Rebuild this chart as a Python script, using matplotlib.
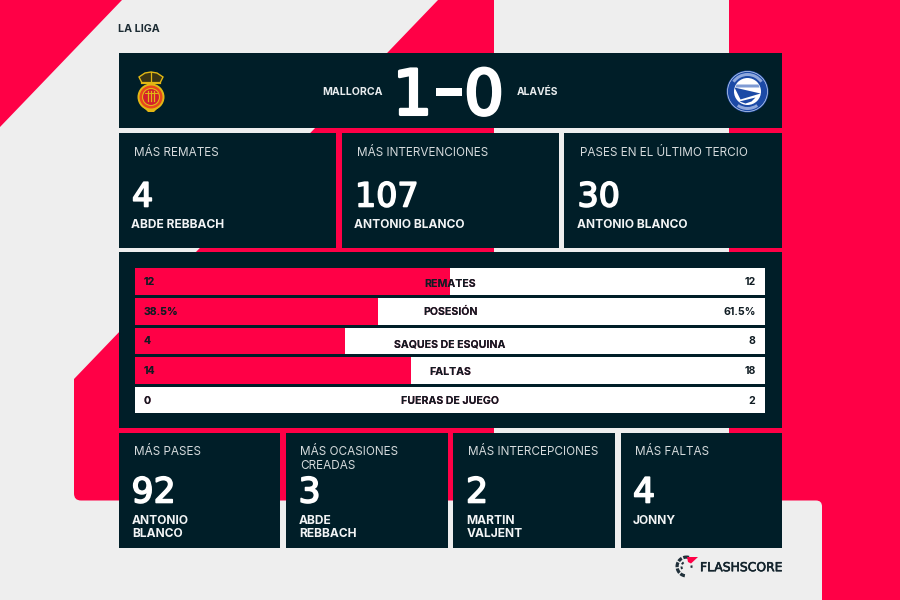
import matplotlib
matplotlib.use("Agg")
import matplotlib.pyplot as plt
import matplotlib.patheffects as pe
from matplotlib.patches import Circle, FancyBboxPatch, PathPatch, Polygon, Rectangle, Wedge
from matplotlib.path import Path

# Data
league = "LA LIGA"
home_team = "MALLORCA"
away_team = "ALAVÉS"
home_score = "1"
away_score = "0"

stat_names = ["REMATES", "POSESIÓN", "SAQUES DE ESQUINA", "FALTAS", "FUERAS DE JUEGO"]
stat_home = [12, 38.5, 4, 14, 0]
stat_away = [12, 61.5, 8, 18, 2]
stat_home_labels = ["12", "38.5%", "4", "14", "0"]
stat_away_labels = ["12", "61.5%", "8", "18", "2"]

top_titles = ["MÁS REMATES", "MÁS INTERVENCIONES", "PASES EN EL ÚLTIMO TERCIO"]
top_values = ["4", "107", "30"]
top_players = ["ABDE REBBACH", "ANTONIO BLANCO", "ANTONIO BLANCO"]

bottom_titles = ["MÁS PASES", "MÁS OCASIONES\nCREADAS", "MÁS INTERCEPCIONES", "MÁS FALTAS"]
bottom_values = ["92", "3", "2", "4"]
bottom_players = ["ANTONIO\nBLANCO", "ABDE\nREBBACH", "MARTIN\nVALJENT", "JONNY"]

RED = "#ff0046"
DARK = "#001e28"
GREY = "#eeeeee"
MAROON = "#8a0a33"
TITLE = "#d5dadc"

plt.rcParams["font.family"] = ["Inter", "DejaVu Sans"]

fig = plt.figure(figsize=(9, 6), dpi=100, facecolor=GREY)
ax = fig.add_axes([0, 0, 1, 1])
ax.set_xlim(0, 900)
ax.set_ylim(600, 0)
ax.axis("off")


def card(x0, y0, x1, y1):
    ax.add_patch(Rectangle((x0, y0), x1 - x0, y1 - y0, color=DARK, lw=0, zorder=3))


def background():
    ax.add_patch(Polygon([(0, 0), (122, 0), (0, 127)], color=RED, lw=0))
    # Big red shape in the middle, rounded bottom left corner
    verts = [(438, 0), (494, 0), (494, 500.5), (81, 500.5), (74, 500.5), (74, 493.5), (74, 379), (438, 0)]
    codes = [Path.MOVETO, Path.LINETO, Path.LINETO, Path.LINETO, Path.CURVE3, Path.CURVE3, Path.LINETO, Path.CLOSEPOLY]
    ax.add_patch(PathPatch(Path(verts, codes), color=RED, lw=0))
    # Red band on the right with the rounded notch
    ax.add_patch(Rectangle((729, 0), 171, 600, color=RED, lw=0))
    ax.add_patch(FancyBboxPatch((600, 506.5), 216, 120, boxstyle="round,pad=6", color=GREY, lw=0, zorder=1.5))


def mallorca_crest(cx, cy):
    yellow = "#e2b714"
    ax.add_patch(Polygon([(cx - 8, cy + 10), (cx + 8, cy + 10), (cx + 3, cy + 15), (cx - 3, cy + 15)],
                         color=yellow, lw=0, zorder=4))
    ax.add_patch(Circle((cx, cy), 13.5, color=yellow, lw=0, zorder=4))
    ax.add_patch(Circle((cx, cy), 11.5, color="#e8481c", lw=0, zorder=5))
    ax.add_patch(Circle((cx, cy), 8.5, facecolor="#d3202c", edgecolor=yellow, lw=0.8, zorder=6))
    for dx in [-3, 0, 3]:
        ax.plot([cx + dx, cx + dx], [cy - 6, cy + 4], color=yellow, lw=0.9, zorder=7)
    ax.plot([cx - 6, cx + 6], [cy - 4, cy - 4], color=yellow, lw=0.7, zorder=7)
    # Crown
    ax.add_patch(Polygon([(cx - 9, cy - 14), (cx - 12, cy - 20), (cx - 6, cy - 24), (cx, cy - 25),
                          (cx + 6, cy - 24), (cx + 12, cy - 20), (cx + 9, cy - 14)],
                         facecolor="#3a3414", edgecolor=yellow, lw=1, zorder=4))
    ax.plot([cx - 9, cx + 9], [cy - 14, cy - 14], color=yellow, lw=1.6, zorder=5)
    ax.plot([cx, cx], [cy - 25, cy - 15], color=yellow, lw=0.9, zorder=5)


def alaves_crest(cx, cy):
    blue = "#1c4aa6"
    ax.add_patch(Circle((cx, cy), 21, color=blue, lw=0, zorder=4))
    ax.add_patch(Circle((cx, cy), 20, facecolor="none", edgecolor="#c9d6ee", lw=0.5, zorder=5))
    # Lettering of the ring, too small to read
    for start, end in [(215, 325), (55, 125)]:
        ax.add_patch(Wedge((cx, cy), 18.5, start, end, width=3, color="#8fa8dc", lw=0, zorder=5))
    ax.add_patch(Circle((cx, cy), 13.5, color="white", lw=0, zorder=6))
    ax.add_patch(Polygon([(cx - 13, cy - 4), (cx + 13, cy + 2), (cx - 7, cy + 8)], color=blue, lw=0, zorder=7))
    ax.add_patch(Polygon([(cx - 8, cy + 10), (cx + 8, cy + 6), (cx + 4, cy + 10), (cx - 2, cy + 12)],
                         color=blue, lw=0, zorder=7))
    ax.add_patch(Polygon([(cx - 11, cy - 7), (cx + 11, cy - 7), (cx + 12, cy - 4), (cx - 12, cy - 4)],
                         color="#7f9bd4", lw=0, zorder=7))


def flashscore_logo():
    cx, cy = 686.5, 566.5
    for start, end in [(100, 130), (138, 168), (176, 206), (214, 240), (250, 285)]:
        ax.add_patch(Wedge((cx, cy), 11, start, end, width=3.2, color="#20303a", lw=0, zorder=4))
    for start, end in [(150, 180), (205, 235), (-12, 15)]:
        ax.add_patch(Wedge((cx, cy), 6, start, end, width=2, color="#20303a", lw=0, zorder=4))
    ax.add_patch(Polygon([(687, 557), (698, 557), (691, 563.5), (688, 562)], color=RED, lw=0, zorder=4))
    ax.text(700, 571.2, "FLASHSCORE", fontsize=8.9, color="#13232c", family="DejaVu Sans",
            ha="left", va="baseline", zorder=4,
            path_effects=[pe.withStroke(linewidth=0.4, foreground="#13232c")])


def digits(x, y, s, size, stroke, ha="left"):
    # DejaVu has the wide digits with the foot on the 1, the stroke makes them heavier
    ax.text(x, y, s, color="white", fontsize=size, family="DejaVu Sans", ha=ha, va="baseline", zorder=5,
            path_effects=[pe.withStroke(linewidth=stroke, foreground="white")])


def multiline(x, y, s, step, **kw):
    for i, line in enumerate(s.split("\n")):
        ax.text(x, y + i * step, line, ha="left", va="baseline", zorder=5, **kw)


background()

ax.text(118, 32, league, fontsize=7.7, fontweight="bold", color="#1c2b33", ha="left", va="baseline")

# Header
card(118.5, 53, 782, 128)
mallorca_crest(151, 97)
alaves_crest(747.5, 91.5)
ax.text(322.5, 95, home_team, fontsize=7.6, fontweight="bold", color="#e8ecee", ha="left", va="baseline", zorder=5)
ax.text(517, 95, away_team, fontsize=7.4, fontweight="bold", color="#e8ecee", ha="left", va="baseline", zorder=5)
digits(412.5, 114.5, home_score, 45, 2.2, ha="center")
ax.add_patch(Rectangle((436, 88), 25.5, 8, color="white", lw=0, zorder=5))
digits(484, 114.5, away_score, 45, 2.2, ha="center")

# Top row of cards
top_boxes = [(118.5, 336), (341.5, 559), (564, 782)]
top_text_x = [134, 357, 579.5]
top_name_x = [131, 354.5, 577]
for i in range(3):
    card(top_boxes[i][0], 133, top_boxes[i][1], 248)
    ax.text(top_text_x[i], 156, top_titles[i], fontsize=8.45, color=TITLE, ha="left", va="baseline", zorder=5)
    digits(top_text_x[i] - 2, 206.5, top_values[i], 24, 1.2)
    ax.text(top_name_x[i], 228.5, top_players[i], fontsize=8.65, fontweight="bold", color="#f2f4f5",
            ha="left", va="baseline", zorder=5)

# Stats panel
card(118.5, 252, 782, 428)
stats_ax = fig.add_axes([135 / 900, 1 - 413.4 / 600, 630 / 900, 145.1 / 600])
stats_ax.set_xlim(0, 1)
stats_ax.set_ylim(4.45, -0.45)
stats_ax.axis("off")

rows = list(range(len(stat_names)))
home_share = [h / (h + a) for h, a in zip(stat_home, stat_away)]
away_share = [1 - s for s in home_share]
home_bars = stats_ax.barh(rows, home_share, height=0.9, color=RED, lw=0)
away_bars = stats_ax.barh(rows, away_share, left=home_share, height=0.9, color="white", lw=0)

px = 1 / 29.6
name_nudge = [1.4, 0, 2.7, 1.5, 0]
for r in rows:
    base = r + 3.5 * px
    name_y = base + name_nudge[r] * px
    # Same text twice, each clipped to its bar, so it changes colour over the red part
    for colour, bar in [(MAROON, home_bars[r]), ("#101c23", away_bars[r])]:
        for x, y, s, ha in [(9 / 630, base, stat_home_labels[r], "left"),
                            (0.5, name_y, stat_names[r], "center")]:
            t = stats_ax.text(x, y, s, fontsize=7.6, fontweight="bold", color=colour, ha=ha, va="baseline")
            t.set_clip_path(bar)
    stats_ax.text(620.5 / 630, base, stat_away_labels[r], fontsize=7.6, fontweight="bold", color="#101c23",
                  ha="right", va="baseline")

# Bottom row of cards
bottom_boxes = [(118.5, 280), (286, 447.5), (453, 614.5), (620.5, 782)]
bottom_text_x = [133.5, 300.5, 468, 635]
bottom_name_x = [132, 299, 466.5, 633]
for i in range(4):
    card(bottom_boxes[i][0], 433, bottom_boxes[i][1], 548)
    multiline(bottom_text_x[i], 455, bottom_titles[i], 14.3, fontsize=8.45, color=TITLE)
    digits(bottom_text_x[i] - 2, 502.5, bottom_values[i], 25, 1.2)
    multiline(bottom_name_x[i], 524.5, bottom_players[i], 12.7, fontsize=8.65, fontweight="bold", color="#f2f4f5")

flashscore_logo()

fig.savefig("out.png", dpi=100, facecolor=GREY)
